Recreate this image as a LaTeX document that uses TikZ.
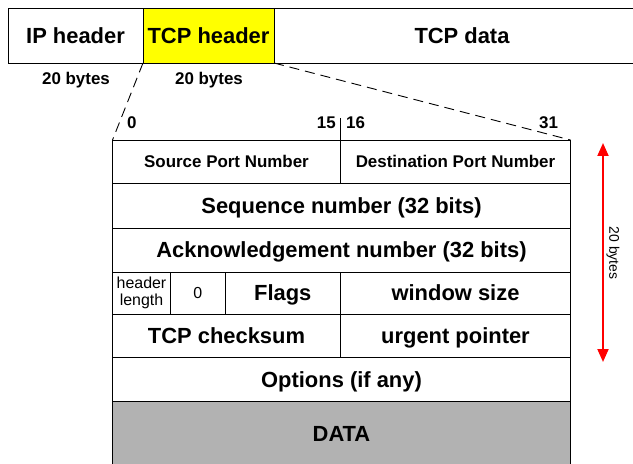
\documentclass[tikz,border=0pt]{standalone}
\usepackage{fontspec}
\setmainfont{Liberation Sans}
\usetikzlibrary{arrows.meta}
\definecolor{hdryellow}{RGB}{255,255,0}
\definecolor{datagray}{RGB}{178,178,178}
\newcommand{\mkcell}[7]{%
  \node[cellbox,#7,minimum width={(#4-#2)*1bp},minimum height={(#5-#3)*1bp}]
    (#1) at ({(#2+#4)/2},{(#3+#5)/2}) {#6};}
\begin{document}
\begin{tikzpicture}[x=1bp,y=-1bp,
  cellbox/.style={draw=black,line width=0.9bp,inner sep=0pt,outer sep=0pt,align=center},
  big/.style={font=\fontsize{22}{25}\selectfont\bfseries,text height=16bp,text depth=0bp},
  mid/.style={font=\fontsize{17}{20}\selectfont\bfseries,text height=12.5bp,text depth=0bp},
  small/.style={font=\fontsize{16}{17}\selectfont},
  bitlbl/.style={font=\fontsize{17}{20}\selectfont\bfseries,inner sep=0pt},
  dashline/.style={dash pattern=on 10bp off 6bp,line width=0.9bp},
  redarrow/.style={red,line width=2bp,{Triangle[width=11bp,length=13bp]}-{Triangle[width=11bp,length=13bp]}}
]
\useasboundingbox (0,0) rectangle (633,464);
\clip (0,0) rectangle (633,464);
% top bar
\mkcell{ip}{8}{8}{143}{63}{IP header}{big,fill=white}
\mkcell{tcph}{143}{8}{274}{63}{TCP header}{big,fill=hdryellow}
\mkcell{tcpd}{274}{8}{650}{63}{TCP data}{big,fill=white}
\node[mid] (ipb) at (76,78) {20 bytes};
\node[mid] (tcpb) at (209,78) {20 bytes};
% table
\mkcell{sp}{112.5}{140}{340.5}{183}{Source Port Number}{mid}
\mkcell{dp}{340.5}{140}{570.5}{183}{Destination Port Number}{mid}
\mkcell{seq}{112.5}{183}{570.5}{228}{Sequence number (32 bits)}{big}
\mkcell{ack}{112.5}{228}{570.5}{272}{Acknowledgement number (32 bits)}{big}
\mkcell{hl}{112.5}{272}{170.5}{314}{header\\length}{small}
\mkcell{zero}{170.5}{272}{225}{314}{0}{small}
\mkcell{flags}{225}{272}{340.5}{314}{Flags}{big}
\mkcell{win}{340.5}{272}{570.5}{314}{window size}{big}
\mkcell{cks}{112.5}{314}{340.5}{357}{TCP checksum}{big}
\mkcell{urg}{340.5}{314}{570.5}{357}{urgent pointer}{big}
\mkcell{opt}{112.5}{357}{570.5}{401}{Options (if any)}{big}
\mkcell{data}{112.5}{401}{570.5}{475}{}{fill=datagray}
\node[big] (datat) at (341.5,433) {DATA};
% bit labels
\node[bitlbl,anchor=west] (b0) at (127,123) {0};
\node[bitlbl,anchor=east] (b15) at (336,123) {15};
\node[bitlbl,anchor=west] (b16) at (346,123) {16};
\node[bitlbl,anchor=west] (b31) at (539,123) {31};
\coordinate (tick) at (340.5,118);
\draw[line width=0.9bp] (tick) -- (dp.north west);
% dashed zoom lines
\draw[dashline] (tcph.south west) -- (sp.north west);
\draw[dashline] (tcph.south east) -- (dp.north east);
% red arrow
\coordinate (rtop) at (603,143);
\coordinate (rbot) at (603,362);
\draw[redarrow] (rtop) -- (rbot);
\node[font=\fontsize{14}{16}\selectfont,rotate=-90] (rlbl) at (613,253) {20 bytes};
\end{tikzpicture}
\end{document}
